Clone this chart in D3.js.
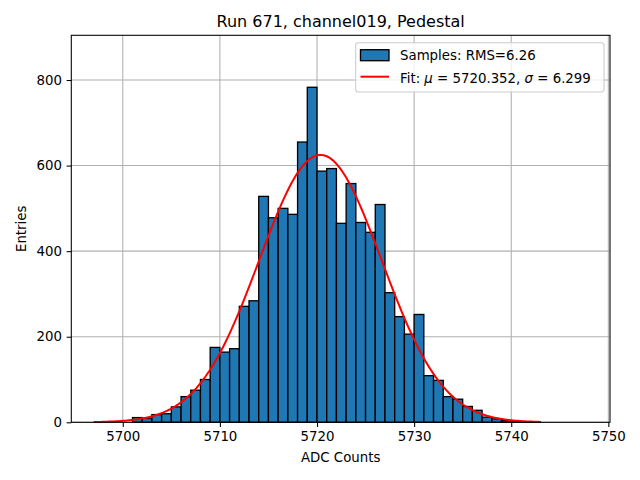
<!DOCTYPE html>
<html>
<head>
<meta charset="utf-8">
<script src="https://cdn.jsdelivr.net/npm/d3@7"></script>
<style>
  body { margin: 0; background: #fff; }
  text { font-family: "DejaVu Sans", sans-serif; }
</style>
</head>
<body>
<div id="viz"></div>
<script>
// histogram bins: left edge of each 1-count-wide bin and its entries
var binStart = [5701,5702,5703,5704,5705,5706,5707,5708,5709,5710,5711,5712,5713,5714,5715,5716,5717,5718,5719,5720,5721,5722,5723,5724,5725,5726,5727,5728,5729,5730,5731,5732,5733,5734,5735,5736,5737,5738,5739,5740,5741,5742];
var counts   = [11,9,18,20,36,60,75,100,175,164,172,271,284,528,478,500,486,655,783,587,593,465,558,467,444,509,303,247,206,252,109,98,60,54,37,28,12,8,4,2,1,1];
var binWidth = 1;

// gaussian fit
var fitMu = 5720.352, fitSigma = 6.299;
var fitRange = [5697, 5743];
var rms = 6.26;

var xTicks = [5700, 5710, 5720, 5730, 5740, 5750];
var yTicks = [0, 200, 400, 600, 800];

var w = 640, h = 480;
var padL = 71.3, padR = 610, padT = 35.3, padB = 422.3;

var svg = d3.select("#viz").append("svg")
    .attr("width", w)
    .attr("height", h);

var x = d3.scaleLinear().domain([5694.7, 5750.17]).range([padL, padR]);
var y = d3.scaleLinear().domain([0, 904.5]).range([padB, padT]);

// grid
svg.append("g").selectAll("line").data(xTicks).enter().append("line")
    .attr("x1", function(d) { return x(d); })
    .attr("x2", function(d) { return x(d); })
    .attr("y1", padT).attr("y2", padB)
    .style("stroke", "#b0b0b0").style("stroke-width", 1.07);
svg.append("g").selectAll("line").data(yTicks).enter().append("line")
    .attr("y1", function(d) { return y(d); })
    .attr("y2", function(d) { return y(d); })
    .attr("x1", padL).attr("x2", padR)
    .style("stroke", "#b0b0b0").style("stroke-width", 1.07);

// bars
svg.append("g").selectAll("rect").data(counts).enter().append("rect")
    .attr("x", function(d, i) { return x(binStart[i]); })
    .attr("width", function(d, i) { return x(binStart[i] + binWidth) - x(binStart[i]); })
    .attr("y", function(d) { return y(d); })
    .attr("height", function(d) { return y(0) - y(d); })
    .style("fill", "#1f77b4")
    .style("stroke", "#000")
    .style("stroke-width", 1.33);

// fit curve
var total = d3.sum(counts);
var amp = total * binWidth / (fitSigma * Math.sqrt(2 * Math.PI));
var fitX = d3.range(0, 201).map(function(i) { return fitRange[0] + (fitRange[1] - fitRange[0]) * i / 200; });
var line = d3.line()
    .x(function(d) { return x(d); })
    .y(function(d) { return y(amp * Math.exp(-0.5 * Math.pow((d - fitMu) / fitSigma, 2))); });
svg.append("path")
    .datum(fitX)
    .attr("d", line)
    .style("fill", "none")
    .style("stroke", "#ff0000")
    .style("stroke-width", 2);

// frame
svg.append("rect")
    .attr("x", padL).attr("y", padT)
    .attr("width", padR - padL).attr("height", padB - padT)
    .style("fill", "none").style("stroke", "#000").style("stroke-width", 1.07);

// axes
var xAxis = d3.axisBottom(x).tickValues(xTicks).tickSize(4.67).tickPadding(4.67).tickFormat(d3.format("d"));
var gx = svg.append("g").attr("transform", "translate(0," + padB + ")").call(xAxis);
var yAxis = d3.axisLeft(y).tickValues(yTicks).tickSize(4.67).tickPadding(4.67).tickFormat(d3.format("d"));
var gy = svg.append("g").attr("transform", "translate(" + padL + ",0)").call(yAxis);
[gx, gy].forEach(function(g) {
  g.select(".domain").remove();
  g.selectAll(".tick line").style("stroke", "#000").style("stroke-width", 1.07);
  g.selectAll(".tick text").style("font-size", "13.33px").style("fill", "#000")
    .style("font-family", "DejaVu Sans");
});

// labels
svg.append("text")
    .attr("x", (padL + padR) / 2).attr("y", 27)
    .attr("text-anchor", "middle")
    .style("font-size", "16px")
    .text("Run 671, channel019, Pedestal");
svg.append("text")
    .attr("x", (padL + padR) / 2).attr("y", 462)
    .attr("text-anchor", "middle")
    .style("font-size", "13.33px")
    .text("ADC Counts");
svg.append("text")
    .attr("transform", "translate(26," + ((padT + padB) / 2) + ") rotate(-90)")
    .attr("text-anchor", "middle")
    .style("font-size", "13.33px")
    .text("Entries");

// legend
var lg = svg.append("g");
lg.append("rect")
    .attr("x", 355.7).attr("y", 42.7).attr("width", 248.3).attr("height", 49.3)
    .attr("rx", 2.5)
    .style("fill", "#fff").style("fill-opacity", 0.8)
    .style("stroke", "#cccccc").style("stroke-width", 1.07);
lg.append("rect")
    .attr("x", 360.5).attr("y", 49.7).attr("width", 28.5).attr("height", 11)
    .style("fill", "#1f77b4").style("stroke", "#000").style("stroke-width", 1.33);
lg.append("text")
    .attr("x", 400).attr("y", 59.5)
    .style("font-size", "13.33px")
    .text("Samples: RMS=" + rms.toFixed(2));
lg.append("line")
    .attr("x1", 360.5).attr("x2", 389).attr("y1", 76.7).attr("y2", 76.7)
    .style("stroke", "#ff0000").style("stroke-width", 2);
var ft = lg.append("text")
    .attr("x", 400).attr("y", 83)
    .style("font-size", "13.33px");
ft.append("tspan").text("Fit: ");
ft.append("tspan").style("font-style", "italic").text("\u03bc");
ft.append("tspan").text(" = " + fitMu.toFixed(3) + ", ");
ft.append("tspan").style("font-style", "italic").text("\u03c3");
ft.append("tspan").text(" = " + fitSigma.toFixed(3));
</script>
</body>
</html>
